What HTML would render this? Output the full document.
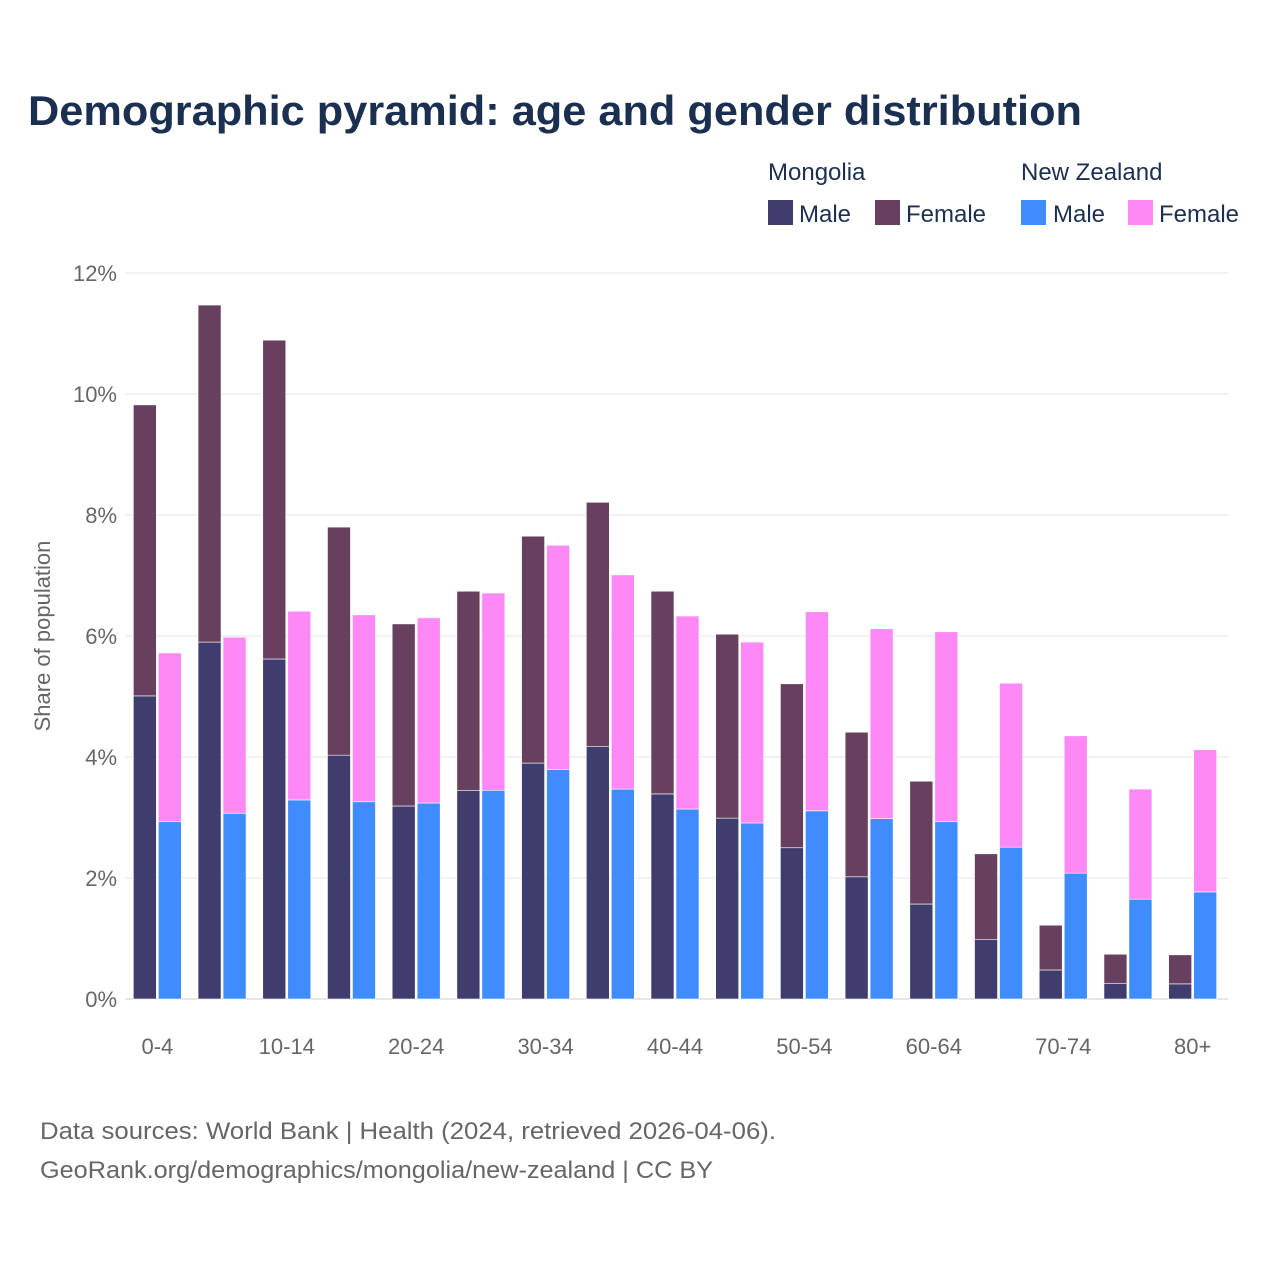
<!DOCTYPE html>
<html><head><meta charset="utf-8"><style>
body{margin:0;background:#fff;font-family:"Liberation Sans",sans-serif;}
svg text{font-family:"Liberation Sans",sans-serif;}
</style></head><body>
<svg width="1280" height="1280" xmlns="http://www.w3.org/2000/svg" id="chart">
<rect width="1280" height="1280" fill="#fff"/>
<text x="28" y="125" font-size="42" font-weight="bold" fill="#1b3050" textLength="1054" lengthAdjust="spacingAndGlyphs">Demographic pyramid: age and gender distribution</text>
<g font-size="24" fill="#1b3050">
<text x="768" y="180">Mongolia</text>
<text x="1021" y="180">New Zealand</text>
<rect x="768" y="200" width="25" height="25" fill="#3f3d6e"/>
<text x="799" y="222">Male</text>
<rect x="875" y="200" width="25" height="25" fill="#67405f"/>
<text x="906" y="222">Female</text>
<rect x="1021" y="200" width="25" height="25" fill="#3f8cff"/>
<text x="1053" y="222">Male</text>
<rect x="1128" y="200" width="25" height="25" fill="#ff88f7"/>
<text x="1159" y="222">Female</text>
</g>
<g id="grid"></g><g id="bars"></g><g id="axes"></g>
<text transform="translate(50,636) rotate(-90)" text-anchor="middle" font-size="22" fill="#666">Share of population</text>
<text x="40" y="1139" font-size="24" fill="#666" textLength="736" lengthAdjust="spacingAndGlyphs">Data sources: World Bank | Health (2024, retrieved 2026-04-06).</text>
<text x="40" y="1178" font-size="24" fill="#666" textLength="673" lengthAdjust="spacingAndGlyphs">GeoRank.org/demographics/mongolia/new-zealand | CC BY</text>
</svg>
<script>
const categories=["0-4","5-9","10-14","15-19","20-24","25-29","30-34","35-39","40-44","45-49","50-54","55-59","60-64","65-69","70-74","75-79","80+"];
const mnMale=[5.01,5.90,5.62,4.03,3.19,3.45,3.90,4.17,3.39,2.99,2.50,2.02,1.57,0.98,0.48,0.26,0.25];
const mnFemale=[4.81,5.57,5.27,3.77,3.01,3.29,3.75,4.04,3.35,3.04,2.71,2.39,2.03,1.42,0.74,0.48,0.48];
const nzMale=[2.93,3.07,3.29,3.26,3.24,3.45,3.79,3.47,3.14,2.91,3.11,2.98,2.93,2.51,2.08,1.65,1.77];
const nzFemale=[2.79,2.91,3.12,3.09,3.06,3.26,3.71,3.54,3.19,2.99,3.29,3.14,3.14,2.71,2.27,1.82,2.35];
const yTicks=[0,2,4,6,8,10,12];
const NS="http://www.w3.org/2000/svg";
const X0=125,W=1100,Y0=999,PX=60.5;
const band=W/categories.length;
const y=v=>Y0-v*PX;
const xc=i=>X0+band*(i+0.5);
function mk(t,a,p){const e=document.createElementNS(NS,t);for(const k in a)e.setAttribute(k,a[k]);p.appendChild(e);return e;}
const grid=document.getElementById('grid'),bars=document.getElementById('bars'),axes=document.getElementById('axes');
yTicks.forEach(t=>{
 const l=mk('line',{x1:X0,x2:X0+W+3,y1:y(t),y2:y(t),stroke:t===0?'#ccc':'#e6e6e6','stroke-width':1},grid);
 
 
 const tx=mk('text',{x:117,y:y(t)+8,'text-anchor':'end','font-size':22,fill:'#666'},axes);
 tx.textContent=t+'%';
 
 
});
const bw=23;
categories.forEach((c,i)=>{
 const cx=xc(i);
 const segs=[[cx-bw-1,0,mnMale[i],'#3f3d6e','mongolia-male'],[cx-bw-1,mnMale[i],mnFemale[i],'#67405f','mongolia-female'],[cx+1,0,nzMale[i],'#3f8cff','nz-male'],[cx+1,nzMale[i],nzFemale[i],'#ff88f7','nz-female']];
 segs.forEach(s=>{
  const r=mk('rect',{x:s[0],y:y(s[1]+s[2]),width:bw,height:s[2]*PX,fill:s[3],stroke:'#fff','stroke-width':0.6},bars);
  
  
 });
 if(i%2===0){
  const tx=mk('text',{x:cx,y:1054,'text-anchor':'middle','font-size':22,fill:'#666'},axes);
  tx.textContent=c;
  
  
 }
});
</script>
</body></html>
